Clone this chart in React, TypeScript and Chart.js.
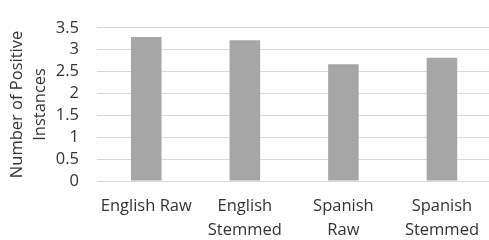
import React, { useEffect, useRef } from "react";
import { Chart, registerables } from "chart.js";

Chart.register(...registerables);

const categories: string[][] = [
  ["English Raw"],
  ["English", "Stemmed"],
  ["Spanish", "Raw"],
  ["Spanish", "Stemmed"],
];
const values: number[] = [3.29, 3.22, 2.67, 2.82];
const yTitle: string[] = ["Number of Positive", "Instances"];
const yMin = 0;
const yMax = 3.5;
const yStep = 0.5;

const FONT = "'Open Sans', 'Noto Sans', sans-serif";
const TEXT = "#333333";

export default function App() {
  const ref = useRef<HTMLCanvasElement | null>(null);
  useEffect(() => {
    if (!ref.current) return;
    const chart = new Chart(ref.current, {
      type: "bar",
      data: {
        labels: categories,
        datasets: [
          {
            data: values,
            backgroundColor: "#a6a6a6",
            borderWidth: 0,
            categoryPercentage: 1,
            barPercentage: 0.31,
          },
        ],
      },
      options: {
        animation: false,
        responsive: true,
        maintainAspectRatio: false,
        layout: { padding: { top: 16, right: 0, left: 0, bottom: 0 } },
        plugins: { legend: { display: false }, tooltip: { enabled: false } },
        scales: {
          x: {
            grid: { display: false, drawTicks: false },
            border: { display: false },
            ticks: {
              color: TEXT,
              font: { family: FONT, size: 16.5, lineHeight: "24px" },
              padding: 13,
              maxRotation: 0,
              autoSkip: false,
            },
            afterFit: (s: any) => {
              s.height = 59;
            },
          },
          y: {
            min: yMin,
            max: yMax,
            grid: { color: "#d9d9d9", lineWidth: 1, drawTicks: false },
            border: { display: false },
            ticks: {
              stepSize: yStep,
              autoSkip: false,
              color: TEXT,
              font: { family: FONT, size: 16.5 },
              padding: 18,
              callback: (v: any) => String(Number(v)),
            },
            title: {
              display: true,
              text: yTitle,
              color: TEXT,
              font: { family: FONT, size: 16.5, lineHeight: "23px" },
              padding: { top: 6, bottom: 0 },
            },
            afterFit: (s: any) => {
              s.width = 97;
            },
          },
        },
      },
    });
    return () => chart.destroy();
  }, []);
  return (
    <div style={{ position: "absolute", left: 0, top: 0, width: 489, height: 240, overflow: "hidden" }}>
      <div style={{ position: "relative", width: 492, height: 240 }}>
        <canvas ref={ref} />
      </div>
    </div>
  );
}
